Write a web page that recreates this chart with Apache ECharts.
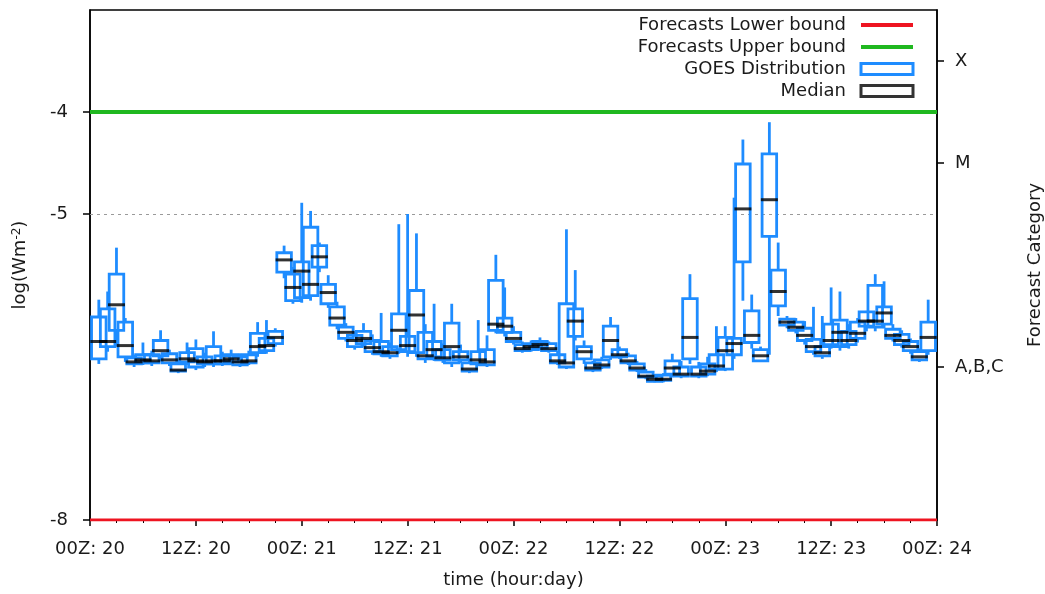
<!DOCTYPE html>
<html>
<head>
<meta charset="utf-8">
<script src="https://cdn.jsdelivr.net/npm/echarts@6/dist/echarts.min.js"></script>
<style>
html,body{margin:0;padding:0;background:#fff;}
#chart{width:1045px;height:594px;}
</style>
</head>
<body>
<div id="chart"></div>
<script>
// hour offsets from 00Z on day 20
const hours = [1,2,3,4,5,6,7,8,9,10,11,12,13,14,15,16,17,18,19,20,
  21,22,23,24,25,26,27,28,29,30,31,32,33,34,35,36,37,38,39,40,
  41,42,43,44,45,46,47,48,49,50,51,52,53,54,55,56,57,58,59,60,
  61,62,63,64,65,66,67,68,69,70,71,72,73,74,75,76,77,78,79,80,
  81,82,83,84,85,86,87,88,89,90,91,92,93,94,95];

const minVals = [-6.47,-6.35,-6.30,-6.45,-6.50,-6.48,-6.49,-6.44,-6.49,-6.56,
  -6.48,-6.53,-6.50,-6.50,-6.49,-6.48,-6.50,-6.48,-6.40,-6.37,
  -6.30,-5.63,-5.88,-5.87,-5.85,-5.57,-5.92,-6.13,-6.25,-6.33,
  -6.30,-6.38,-6.40,-6.42,-6.37,-6.40,-6.40,-6.46,-6.44,-6.46,
  -6.50,-6.46,-6.56,-6.49,-6.50,-6.17,-6.20,-6.28,-6.36,-6.35,
  -6.33,-6.36,-6.48,-6.52,-6.24,-6.47,-6.55,-6.52,-6.43,-6.42,
  -6.48,-6.55,-6.62,-6.65,-6.65,-6.60,-6.61,-6.47,-6.61,-6.59,
  -6.55,-6.54,-6.42,-5.85,-6.32,-6.45,-6.38,-6.00,-6.12,-6.17,
  -6.28,-6.38,-6.42,-6.32,-6.34,-6.32,-6.26,-6.15,-6.15,-6.12,
  -6.25,-6.31,-6.37,-6.45,-6.38];

const q1Vals = [-6.42,-6.30,-6.14,-6.40,-6.47,-6.46,-6.46,-6.39,-6.46,-6.54,
  -6.45,-6.50,-6.47,-6.47,-6.47,-6.45,-6.48,-6.46,-6.36,-6.34,
  -6.27,-5.57,-5.85,-5.82,-5.80,-5.52,-5.88,-6.09,-6.22,-6.30,
  -6.27,-6.35,-6.37,-6.39,-6.33,-6.35,-6.36,-6.42,-6.40,-6.43,
  -6.46,-6.43,-6.54,-6.47,-6.48,-6.14,-6.16,-6.25,-6.34,-6.33,
  -6.31,-6.34,-6.46,-6.50,-6.20,-6.42,-6.53,-6.50,-6.40,-6.40,
  -6.46,-6.53,-6.60,-6.64,-6.63,-6.57,-6.59,-6.42,-6.59,-6.57,
  -6.52,-6.52,-6.38,-5.47,-6.26,-6.44,-5.22,-5.90,-6.09,-6.14,
  -6.24,-6.35,-6.39,-6.28,-6.30,-6.28,-6.22,-6.10,-6.11,-6.08,
  -6.22,-6.28,-6.34,-6.43,-6.34];

const medVals = [-6.25,-6.25,-5.89,-6.29,-6.45,-6.43,-6.44,-6.34,-6.43,-6.53,
  -6.42,-6.44,-6.45,-6.44,-6.44,-6.42,-6.45,-6.44,-6.30,-6.29,
  -6.21,-5.45,-5.72,-5.56,-5.69,-5.42,-5.77,-6.02,-6.16,-6.24,
  -6.22,-6.31,-6.35,-6.36,-6.14,-6.29,-5.99,-6.39,-6.33,-6.41,
  -6.30,-6.40,-6.52,-6.43,-6.45,-6.08,-6.10,-6.22,-6.32,-6.30,
  -6.28,-6.32,-6.44,-6.46,-6.05,-6.35,-6.51,-6.48,-6.24,-6.38,
  -6.44,-6.51,-6.59,-6.62,-6.62,-6.51,-6.57,-6.21,-6.57,-6.54,
  -6.49,-6.34,-6.27,-4.95,-6.19,-6.39,-4.86,-5.76,-6.06,-6.11,
  -6.19,-6.30,-6.36,-6.24,-6.16,-6.24,-6.17,-6.05,-6.05,-5.97,
  -6.19,-6.24,-6.30,-6.40,-6.21];

const q3Vals = [-6.01,-5.93,-5.59,-6.06,-6.41,-6.38,-6.38,-6.24,-6.37,-6.47,
  -6.36,-6.32,-6.40,-6.30,-6.39,-6.38,-6.40,-6.38,-6.17,-6.22,
  -6.15,-5.38,-5.59,-5.47,-5.13,-5.31,-5.69,-5.91,-6.11,-6.19,
  -6.15,-6.24,-6.25,-6.30,-5.98,-6.20,-5.75,-6.16,-6.25,-6.33,
  -6.07,-6.35,-6.46,-6.35,-6.33,-5.65,-6.02,-6.16,-6.28,-6.27,
  -6.25,-6.27,-6.38,-5.88,-5.93,-6.30,-6.46,-6.43,-6.10,-6.33,
  -6.39,-6.47,-6.55,-6.59,-6.58,-6.44,-6.50,-5.83,-6.50,-6.47,
  -6.38,-6.21,-6.22,-4.51,-5.95,-6.33,-4.41,-5.55,-6.03,-6.06,
  -6.12,-6.23,-6.30,-6.08,-6.04,-6.15,-6.06,-5.96,-5.70,-5.91,
  -6.13,-6.18,-6.25,-6.35,-6.06];

const maxVals = [-5.84,-5.76,-5.33,-6.02,-6.38,-6.26,-6.34,-6.14,-6.33,-6.43,
  -6.26,-6.23,-6.36,-6.15,-6.35,-6.33,-6.37,-6.34,-6.06,-6.04,
  -6.12,-5.31,-5.52,-4.89,-4.97,-5.28,-5.60,-5.86,-6.07,-6.15,
  -6.07,-6.18,-5.97,-6.26,-5.10,-5.00,-5.19,-6.08,-5.88,-6.27,
  -5.88,-6.28,-6.42,-6.04,-6.19,-5.40,-5.72,-6.10,-6.25,-6.24,
  -6.21,-6.25,-6.34,-5.15,-5.55,-6.24,-6.44,-6.40,-6.01,-6.30,
  -6.36,-6.44,-6.52,-6.57,-6.56,-6.37,-6.44,-5.59,-6.45,-6.40,
  -6.10,-6.10,-4.84,-4.27,-5.79,-6.30,-4.10,-5.28,-6.00,-6.02,
  -6.05,-5.91,-6.00,-5.72,-5.76,-6.08,-6.02,-5.95,-5.59,-5.66,
  -6.08,-6.14,-6.22,-6.32,-5.84];

const xTickLabels = ['00Z: 20','12Z: 20','00Z: 21','12Z: 21','00Z: 22','12Z: 22','00Z: 23','12Z: 23','00Z: 24'];
const yTickValues = [-8, -5, -4];
const catValues = [-6.5, -4.5, -3.5];
const catLabels = ['A,B,C', 'M', 'X'];
const lowerBound = -8;
const upperBound = -4;
const thresholdLevel = -5;
const xMin = 0, xMax = 96, yMin = -8, yMax = -3;

const FONT = 'DejaVu Sans';
const FS = 18;
const TXT = '#1a1a1a';
const BLUE = '#1e8cff';
const RED = '#ee1421';
const GREEN = '#20b820';
const boxSpan = 1.65; // hours

const boxData = hours.map((h, i) => [h, minVals[i], q1Vals[i], medVals[i], q3Vals[i], maxVals[i]]);
const medData = hours.map((h, i) => [h, medVals[i]]);

const chart = echarts.init(document.getElementById('chart'), null, {renderer: 'canvas'});

const option = {
  animation: false,
  backgroundColor: '#fff',
  grid: {left: 90, right: 108, top: 10, bottom: 74, show: true, borderColor: '#000', borderWidth: 1.5,
    containLabel: false, outerBoundsMode: 'none'},
  legend: {
    orient: 'vertical', right: 130, top: 16, padding: 0, align: 'right',
    itemWidth: 52, itemHeight: 11, itemGap: 4,
    textStyle: {fontSize: FS, fontFamily: FONT, color: TXT, padding: [0, 10, 0, 0]},
    data: [
      {name: 'Forecasts Lower bound', itemStyle: {color: 'transparent', borderWidth: 0}, lineStyle: {color: RED, width: 4}},
      {name: 'Forecasts Upper bound', itemStyle: {color: 'transparent', borderWidth: 0}, lineStyle: {color: GREEN, width: 4}},
      {name: 'GOES Distribution', icon: 'rect', itemStyle: {color: 'transparent', borderColor: BLUE, borderWidth: 3}},
      {name: 'Median', icon: 'rect', itemStyle: {color: 'transparent', borderColor: '#000', borderWidth: 3}}
    ]
  },
  xAxis: {
    type: 'value', min: xMin, max: xMax, interval: 12,
    name: 'time (hour:day)', nameLocation: 'middle', nameGap: 51,
    nameTextStyle: {fontSize: FS, fontFamily: FONT, color: TXT},
    axisLine: {lineStyle: {color: '#000', width: 1.5}},
    axisTick: {show: true, inside: false, length: 6, lineStyle: {color: '#000', width: 1.5}},
    minorTick: {show: true, splitNumber: 4, length: 3, lineStyle: {color: '#000', width: 1}},
    splitLine: {show: false},
    axisLabel: {fontSize: FS, fontFamily: FONT, color: TXT, margin: 20,
      formatter: v => xTickLabels[Math.round(v / 12)]}
  },
  yAxis: [
    {
      type: 'value', min: yMin, max: yMax, position: 'left',
      name: '{a|log(Wm}{b|-2}{a|)}', nameLocation: 'middle', nameGap: 61, nameRotate: 90,
      nameTextStyle: {rich: {
        a: {fontSize: FS, fontFamily: FONT, color: TXT},
        b: {fontSize: 12, fontFamily: FONT, color: TXT, verticalAlign: 'top', padding: [0, 0, 6, 0]}
      }},
      axisLine: {show: true, lineStyle: {color: '#000', width: 1.5}},
      axisTick: {show: true, inside: false, length: 7, customValues: yTickValues, lineStyle: {color: '#000', width: 1.5}},
      splitLine: {show: false},
      axisLabel: {fontSize: FS, fontFamily: FONT, color: TXT, margin: 22, customValues: yTickValues,
        formatter: v => String(v)}
    },
    {
      type: 'value', min: yMin, max: yMax, position: 'right',
      name: 'Forecast Category', nameLocation: 'middle', nameGap: 89, nameRotate: 90,
      nameTextStyle: {fontSize: FS, fontFamily: FONT, color: TXT},
      axisLine: {show: true, lineStyle: {color: '#000', width: 1.5}},
      axisTick: {show: true, inside: false, length: 7, customValues: catValues, lineStyle: {color: '#000', width: 1.5}},
      splitLine: {show: false},
      axisLabel: {fontSize: FS, fontFamily: FONT, color: TXT, margin: 18, customValues: catValues,
        formatter: v => { const k = catValues.findIndex(c => Math.abs(c - v) < 1e-6); return k >= 0 ? catLabels[k] : ''; }}
    }
  ],
  series: [
    {
      name: 'Forecasts Upper bound', type: 'line', symbol: 'none', z: 5,
      data: [[xMin, upperBound], [xMax, upperBound]],
      lineStyle: {color: GREEN, width: 4}, itemStyle: {color: GREEN},
      markLine: {
        silent: true, symbol: 'none', label: {show: false}, z: 1,
        lineStyle: {color: '#9a9a9a', width: 1, type: [3, 4]},
        data: [{yAxis: thresholdLevel}]
      }
    },
    {
      name: 'Forecasts Lower bound', type: 'line', symbol: 'none', z: 5,
      data: [[xMin, lowerBound], [xMax, lowerBound]],
      lineStyle: {color: RED, width: 3}, itemStyle: {color: RED}
    },
    {
      name: 'GOES Distribution', type: 'custom', z: 3, clip: true,
      itemStyle: {color: BLUE},
      encode: {x: 0, y: [1, 2, 3, 4, 5]},
      data: boxData,
      renderItem: function (params, api) {
        const x = api.value(0);
        const lo = api.coord([x, api.value(1)]);
        const q1 = api.coord([x, api.value(2)]);
        const q3 = api.coord([x, api.value(4)]);
        const hi = api.coord([x, api.value(5)]);
        const w = api.size([boxSpan, 0])[0];
        const st = {stroke: BLUE, lineWidth: 2.8, fill: 'none'};
        return {
          type: 'group',
          children: [
            {type: 'line', shape: {x1: lo[0], y1: lo[1], x2: q1[0], y2: q1[1]}, style: st},
            {type: 'line', shape: {x1: q3[0], y1: q3[1], x2: hi[0], y2: hi[1]}, style: st},
            {type: 'rect', shape: {x: q1[0] - w / 2, y: q3[1], width: w, height: Math.max(q1[1] - q3[1], 1)}, style: st}
          ]
        };
      }
    },
    {
      name: 'Median', type: 'scatter', z: 4,
      symbol: 'rect', symbolSize: [17, 3],
      itemStyle: {color: '#000'},
      data: medData
    }
  ]
};
chart.setOption(option);
</script>
</body>
</html>
